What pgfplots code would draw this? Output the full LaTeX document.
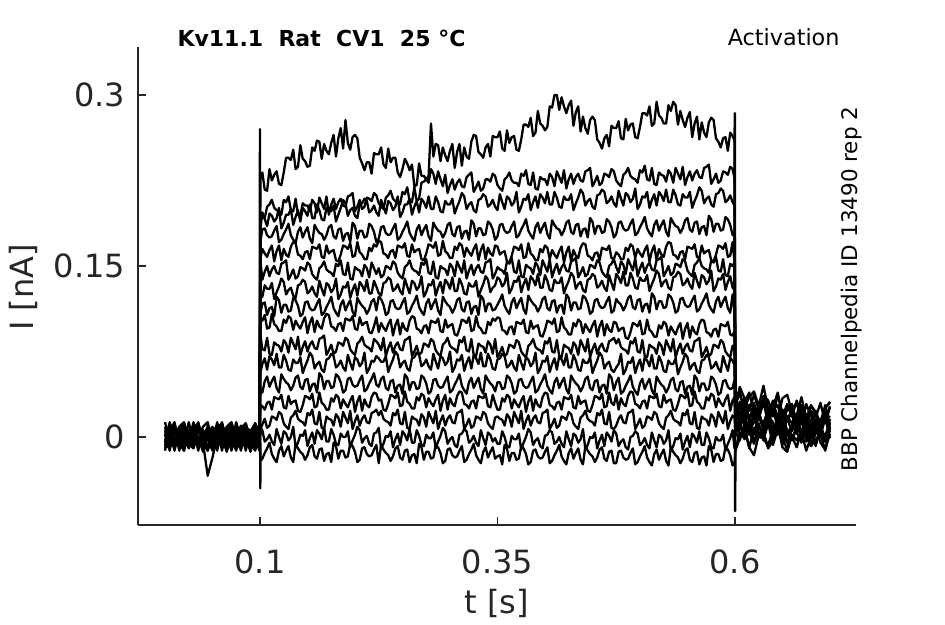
\documentclass[border=0pt]{standalone}
\usepackage{fontspec}
\setmainfont{DejaVu Sans}
\usepackage{pgfplots}
\usepackage{pgfplotstable}
\pgfplotsset{compat=1.18}
\definecolor{axisgray}{RGB}{38,38,38}
% t in ms, currents in pA
\pgfplotstableread{
t y1 y2 y3 y4 y5 y6 y7 y8 y9 y10 y11 y12 y13 y14 y15 y16
0 -3 -6 6 -5 5 6 -5 -10 13 -8 -6 2 3 6 9 -12
5 8 -10 9 9 -6 2 13 0 -3 3 3 -9 -12 -5 -2 9
10 12 5 -3 -12 9 -3 -8 13 -9 10 -10 8 9 10 -9 3
15 -5 0 -6 6 2 9 2 -8 2 -5 0 -5 5 -12 5 -6
20 0 8 10 -2 -10 13 -12 3 8 -12 8 5 -6 2 12 12
25 -9 -9 -9 -3 -3 -6 6 -5 5 6 -5 -10 13 -8 -6 2
30 6 3 5 10 8 -10 9 9 -6 2 13 0 -3 3 3 -9
35 10 12 0 -8 12 5 -3 -12 9 -3 -8 13 -9 10 -10 8
40 -8 -2 -13 6 -5 0 -6 6 2 9 2 -8 2 -5 0 -5
45 -2 -8 3 -2 0 8 10 -2 -10 13 -12 3 8 -12 8 -34
50 3 6 9 -12 -9 -9 -9 -3 -3 -6 6 -5 5 6 -5 -18
55 -12 -5 -2 9 6 3 5 10 8 -10 9 9 -6 2 13 0
60 9 10 -9 3 10 12 0 -8 12 5 -3 -12 9 -3 -8 13
65 5 -12 5 -6 -8 -2 -13 6 -5 0 -6 6 2 9 2 -8
70 -6 2 12 12 -2 -8 3 -2 0 8 10 -2 -10 13 -12 3
75 13 -8 -6 2 3 6 9 -12 -9 -9 -9 -3 -3 -6 6 -5
80 -3 3 3 -9 -12 -5 -2 9 6 3 5 10 8 -10 9 9
85 -9 10 -10 8 9 10 -9 3 10 12 0 -8 12 5 -3 -12
90 2 -5 0 -5 5 -12 5 -6 -8 -2 -13 6 -5 0 -6 6
95 8 -12 8 5 -6 2 12 12 -2 -8 3 -2 0 8 10 -2
99.5 5 6 -5 -10 13 -8 -6 2 3 6 9 -12 -9 -9 -9 -3
100.5 226 197 183 172 157 154 124 109 104 89 57 42 28 7 8 -21
102.5 232 194 197 182 165 138 123 117 102 77 64 39 27 11 6 -19
105 217 192 191 183 161 145 133 118 107 76 69 49 24 16 -4 -14
107.5 216 202 185 177 158 150 130 107 95 87 59 53 30 8 -2 -10
110 235 204 196 175 164 141 130 113 96 73 71 44 31 10 2 -5
112.5 225 208 194 176 168 147 135 114 108 72 68 49 24 18 -4 -15
115 230 201 189 181 154 150 121 106 99 83 63 53 35 17 -7 -19
117.5 233 199 192 185 163 144 127 123 97 81 73 43 34 15 7 -22
120 222 198 201 171 168 143 132 120 93 80 61 39 33 22 0 -12
122.5 221 195 183 173 155 152 139 109 93 75 61 55 37 20 -6 -8
125 232 208 188 178 165 153 136 116 103 85 72 51 26 12 5 -17
127.5 245 206 195 182 160 155 125 116 100 82 67 48 25 9 3 -12
130 245 211 195 187 158 138 129 110 106 74 59 46 36 7 -3 -8
132.5 243 199 200 177 167 142 131 111 104 87 58 41 29 17 0 -18
135 252 198 186 173 171 147 124 122 94 82 68 45 31 19 9 -22
137.5 235 209 193 170 170 139 122 120 102 77 65 52 32 23 -9 -6
140 237 195 199 180 160 141 133 115 98 88 65 54 23 16 -5 -10
142.5 256 194 189 184 159 149 134 106 95 72 70 44 22 14 2 -13
145 244 205 201 175 156 148 138 108 101 79 56 42 28 13 1 -15
147.5 242 203 198 180 162 146 136 118 105 84 62 50 36 10 6 -20
150 237 203 194 184 163 153 126 119 91 75 67 51 35 21 -8 -16
152.5 238 198 204 174 156 151 128 113 100 81 74 40 33 19 -1 -9
155 254 208 192 170 167 143 132 111 105 84 71 46 38 24 4 -7
157.5 251 205 192 186 166 140 126 112 92 78 60 47 26 12 -6 -17
160 260 197 204 182 165 138 123 117 102 77 64 39 27 11 6 -19
162.5 259 210 199 179 169 148 137 121 97 86 66 56 39 22 3 -11
165 244 205 191 178 158 150 130 107 95 87 59 53 30 8 -2 -10
167.5 257 200 190 173 157 154 124 109 104 89 57 42 28 7 8 -21
170 251 211 201 177 168 147 135 114 108 72 68 49 24 18 -4 -15
172.5 248 195 198 184 161 145 133 118 107 76 69 49 24 16 -4 -14
175 258 204 198 186 163 144 127 123 97 81 73 43 34 15 7 -22
177.5 265 209 203 176 164 141 130 113 96 73 71 44 31 10 2 -5
180 246 200 189 174 155 152 139 109 93 75 61 55 37 20 -6 -8
182.5 262 206 195 182 154 150 121 106 99 83 63 53 35 17 -7 -19
185 271 209 201 183 160 155 125 116 100 82 67 48 25 9 3 -12
187.5 253 203 208 172 168 143 132 120 93 80 61 39 33 22 0 -12
190 278 202 205 178 167 142 131 111 104 87 58 41 29 17 0 -18
192.5 258 211 194 179 165 153 136 116 103 85 72 51 26 12 5 -17
195 252 212 199 171 170 139 122 120 102 77 65 52 32 23 -9 -6
197.5 263 214 201 188 158 138 129 110 106 74 59 46 36 7 -3 -8
200 265 198 194 185 159 149 134 106 95 72 70 44 22 14 2 -13
202.5 262 202 192 174 171 147 124 122 94 82 68 45 31 19 9 -22
205 245 208 204 181 162 146 136 118 105 84 62 50 36 10 6 -20
207.5 240 200 205 181 160 141 133 115 98 88 65 54 23 16 -5 -10
210 234 202 209 175 156 151 128 113 100 81 74 40 33 19 -1 -9
212.5 241 210 207 176 156 148 138 108 101 79 56 42 28 13 1 -15
215 241 209 197 187 166 140 126 112 92 78 60 47 26 12 -6 -17
217.5 231 207 199 185 163 153 126 119 91 75 67 51 35 21 -8 -16
220 249 214 203 180 169 148 137 121 97 86 66 56 39 22 3 -11
222.5 248 212 197 171 167 143 132 111 105 84 71 46 38 24 4 -7
225 248 205 194 174 172 148 126 123 92 81 69 44 32 19 8 -23
227.5 254 202 208 184 171 140 124 121 100 76 66 51 33 23 -10 -7
230 239 200 202 185 161 142 135 116 96 87 66 53 24 16 -6 -11
232.5 236 210 196 179 160 150 136 107 93 71 71 43 23 14 1 -14
235 253 212 207 177 157 149 140 109 99 78 57 41 29 13 0 -16
237.5 241 216 205 178 163 147 138 119 103 83 63 49 37 10 5 -21
240 245 209 199 183 164 154 128 120 89 74 68 50 36 21 -9 -17
242.5 245 207 202 187 157 152 130 114 98 80 75 39 34 19 -2 -10
245 232 207 211 173 168 144 134 112 103 83 72 45 39 24 3 -8
247.5 228 204 193 175 167 141 128 113 90 77 61 46 27 12 -7 -18
250 235 215 197 180 166 139 125 118 100 76 65 38 28 11 5 -20
252.5 244 213 204 184 170 149 139 122 95 85 67 55 40 22 2 -12
255 240 219 204 189 159 151 132 108 93 86 60 52 31 8 -3 -11
257.5 234 207 209 179 158 155 126 110 102 88 58 41 29 7 7 -22
260 239 206 195 175 169 148 137 115 106 71 69 48 25 18 -5 -16
262.5 220 219 202 172 162 146 135 119 105 75 70 48 25 16 -5 -15
265 221 207 207 182 164 145 129 124 95 80 74 42 35 15 6 -23
267.5 240 209 197 186 165 142 132 114 94 72 72 43 32 10 1 -6
270 229 223 209 177 156 153 141 110 91 74 62 54 38 20 -7 -9
272.5 229 224 206 182 155 151 123 107 97 82 64 52 36 17 -8 -20
275 226 226 201 186 161 156 127 117 98 81 68 47 26 9 2 -13
277.5 229 223 211 176 169 144 134 121 91 79 62 38 34 22 -1 -13
280 275 235 200 172 168 143 133 112 102 86 59 40 30 17 -1 -19
282.5 246 231 200 188 166 154 138 117 101 84 73 50 27 12 4 -18
285 257 222 211 184 171 140 124 121 100 76 66 51 33 23 -10 -7
287.5 256 233 206 181 159 139 131 111 104 73 60 45 37 7 -4 -9
290 242 226 198 180 160 150 136 107 93 71 71 43 23 14 1 -14
292.5 254 220 197 175 172 148 126 123 92 81 69 44 32 19 8 -23
295 247 230 207 179 163 147 138 119 103 83 63 49 37 10 5 -21
297.5 242 214 204 186 161 142 135 116 96 87 66 53 24 16 -6 -11
300 251 221 204 188 157 152 130 114 98 80 75 39 34 19 -2 -10
302.5 257 226 209 178 157 149 140 109 99 78 57 41 29 13 0 -16
305 236 217 196 176 167 141 128 113 90 77 61 46 27 12 -7 -18
307.5 250 223 202 184 164 154 128 120 89 74 68 50 36 21 -9 -17
310 257 226 207 185 170 149 139 122 95 85 67 55 40 22 2 -12
312.5 238 220 214 174 168 144 134 112 103 83 72 45 39 24 3 -8
315 254 219 211 180 158 155 126 110 102 88 58 41 29 7 7 -22
317.5 246 228 200 181 166 139 125 118 100 76 65 38 28 11 5 -20
320 244 230 204 173 162 146 135 119 105 75 70 48 25 16 -5 -15
322.5 259 232 206 190 159 151 132 108 93 86 60 52 31 8 -3 -11
325 265 215 199 187 165 142 132 114 94 72 72 43 32 10 1 -6
327.5 264 219 197 176 169 148 137 115 106 71 69 48 25 18 -5 -16
330 250 224 208 183 155 151 123 107 97 82 64 52 36 17 -8 -20
332.5 248 216 209 183 164 145 129 124 95 80 74 42 35 15 6 -23
335 245 218 213 177 169 144 134 121 91 79 62 38 34 22 -1 -13
337.5 254 226 211 178 156 153 141 110 91 74 62 54 38 20 -7 -9
340 257 226 202 189 166 154 138 117 101 84 73 50 27 12 4 -18
342.5 246 224 204 187 161 156 127 117 98 81 68 47 26 9 2 -13
345 264 231 208 182 159 139 131 111 104 73 60 45 37 7 -4 -9
347.5 263 229 202 173 168 143 133 112 102 86 59 40 30 17 -1 -19
350 263 221 199 176 167 149 140 116 105 70 68 48 24 18 -6 -17
352.5 268 218 213 186 160 147 138 120 104 74 69 48 24 16 -6 -16
355 253 216 206 187 162 146 132 125 94 79 73 42 34 15 5 -24
357.5 251 226 200 181 163 143 135 115 93 71 71 43 31 10 0 -7
360 269 228 211 179 154 154 144 111 90 73 61 54 37 20 -8 -10
362.5 258 232 209 180 153 152 126 108 96 81 63 52 35 17 -9 -21
365 263 225 203 185 159 157 130 118 97 80 67 47 25 9 1 -14
367.5 264 223 206 189 167 145 137 122 90 78 61 38 33 22 -2 -14
370 252 223 215 175 166 144 136 113 101 85 58 40 29 17 -2 -20
372.5 251 220 197 177 164 155 141 118 100 83 72 50 26 12 3 -19
375 261 231 202 182 169 141 127 122 99 75 65 51 32 23 -11 -8
377.5 274 229 209 186 157 140 134 112 103 72 59 45 36 7 -5 -10
380 274 234 208 191 158 151 139 108 92 70 70 43 22 14 0 -15
382.5 272 222 213 181 170 149 129 124 91 80 68 44 31 19 7 -24
385 280 221 199 177 161 148 141 120 102 82 62 49 36 10 4 -22
387.5 264 232 206 174 159 143 138 117 95 86 65 53 23 16 -7 -12
390 267 218 211 184 155 153 133 115 97 79 74 39 33 19 -3 -11
392.5 286 217 201 188 155 150 143 110 98 77 56 41 28 13 -1 -17
395 275 228 213 179 165 142 131 114 89 76 60 46 26 12 -8 -19
397.5 273 226 210 184 162 155 131 121 88 73 67 50 35 21 -10 -18
400 269 226 205 188 168 150 142 123 94 84 66 55 39 22 1 -13
402.5 272 221 215 178 166 145 137 113 102 82 71 45 38 24 2 -9
405 290 231 204 174 156 156 129 111 101 87 57 41 28 7 6 -23
407.5 289 228 204 190 164 140 128 119 99 75 64 38 27 11 4 -21
410 300 220 215 186 160 147 138 120 104 74 69 48 24 16 -6 -16
412.5 300 233 210 183 157 152 135 109 92 85 59 52 30 8 -4 -12
415 287 228 202 182 163 143 135 115 93 71 71 43 31 10 0 -7
417.5 298 223 201 177 167 149 140 116 105 70 68 48 24 18 -6 -17
420 290 234 211 181 153 152 126 108 96 81 63 52 35 17 -9 -21
422.5 284 218 208 188 162 146 132 125 94 79 73 42 34 15 5 -24
425 291 226 208 190 167 145 137 122 90 78 61 38 33 22 -2 -14
427.5 295 231 213 180 154 154 144 111 90 73 61 54 37 20 -8 -10
430 273 222 199 178 164 155 141 118 100 83 72 50 26 12 3 -19
432.5 285 228 205 186 159 157 130 118 97 80 67 47 25 9 1 -14
435 290 231 210 187 157 140 134 112 103 72 59 45 36 7 -5 -10
437.5 268 225 217 176 166 144 136 113 101 85 58 40 29 17 -2 -20
440 281 224 214 182 170 149 129 124 91 80 68 44 31 19 7 -24
442.5 271 233 203 183 169 141 127 122 99 75 65 51 32 23 -11 -8
445 266 234 207 175 159 143 138 117 95 86 65 53 23 16 -7 -12
447.5 278 236 209 192 158 151 139 108 92 70 70 43 22 14 0 -15
450 281 220 202 189 155 150 143 110 98 77 56 41 28 13 -1 -17
452.5 278 224 200 178 161 148 141 120 102 82 62 49 36 10 4 -22
455 261 229 212 185 162 155 131 121 88 73 67 50 35 21 -10 -18
457.5 258 221 213 185 155 153 133 115 97 79 74 39 33 19 -3 -11
460 253 223 217 179 166 145 137 113 102 82 71 45 38 24 2 -9
462.5 262 231 215 180 165 142 131 114 89 76 60 46 26 12 -8 -19
465 265 230 205 191 164 140 128 119 99 75 64 38 27 11 4 -21
467.5 255 228 207 189 168 150 142 123 94 84 66 55 39 22 1 -13
470 273 235 211 184 157 152 135 109 92 85 59 52 30 8 -4 -12
472.5 271 233 205 175 156 156 129 111 101 87 57 41 28 7 6 -23
475 271 225 202 178 162 149 143 121 100 82 61 48 37 10 3 -23
477.5 277 222 216 188 160 144 140 118 93 86 64 52 24 16 -8 -13
480 262 220 209 189 156 154 135 116 95 79 73 38 34 19 -4 -12
482.5 261 230 203 183 156 151 145 111 96 77 55 40 29 13 -2 -18
485 279 232 214 181 166 143 133 115 87 76 59 45 27 12 -9 -20
487.5 269 236 212 182 163 156 133 122 86 73 66 49 36 21 -11 -19
490 274 229 206 187 169 151 144 124 92 84 65 54 40 22 0 -14
492.5 275 227 209 191 167 146 139 114 100 82 70 44 39 24 1 -10
495 263 226 218 177 157 157 131 112 99 87 56 40 29 7 5 -24
497.5 262 223 200 179 165 141 130 120 97 75 63 37 28 11 3 -22
500 272 234 204 184 161 148 140 121 102 74 68 47 25 16 -7 -17
502.5 284 232 211 188 158 153 137 110 90 85 58 51 31 8 -5 -13
505 284 238 210 193 164 144 137 116 91 71 70 42 32 10 -1 -8
507.5 282 226 215 183 168 150 142 117 103 70 67 47 25 18 -7 -18
510 290 225 201 179 154 153 128 109 94 81 62 51 36 17 -10 -22
512.5 273 236 208 176 163 147 134 126 92 79 72 41 35 15 4 -25
515 275 222 213 186 168 146 139 123 88 78 60 37 34 22 -3 -15
517.5 294 221 203 190 155 155 146 112 88 73 60 53 38 20 -9 -11
520 282 232 215 181 165 156 143 119 98 83 71 49 27 12 2 -20
522.5 280 230 212 186 160 158 132 119 95 80 66 46 26 9 0 -15
525 275 229 207 190 158 141 136 113 101 72 58 44 37 7 -6 -11
527.5 275 224 217 180 167 145 138 114 99 85 57 39 30 17 -3 -21
530 291 234 206 176 171 150 131 125 89 80 67 43 32 19 6 -25
532.5 286 231 206 192 170 142 129 123 97 75 64 50 33 23 -12 -9
535 294 223 217 188 160 144 140 118 93 86 64 52 24 16 -8 -13
537.5 291 236 212 185 159 152 141 109 90 70 69 42 23 14 -1 -16
540 274 231 204 184 156 151 145 111 96 77 55 40 29 13 -2 -18
542.5 286 226 203 179 162 149 143 121 100 82 61 48 37 10 3 -23
545 278 237 213 183 163 156 133 122 86 73 66 49 36 21 -11 -19
547.5 272 221 210 190 156 154 135 116 95 79 73 38 34 19 -4 -12
550 280 228 210 192 167 146 139 114 100 82 70 44 39 24 1 -10
552.5 285 233 215 182 166 143 133 115 87 76 59 45 27 12 -9 -20
555 263 225 201 180 165 141 130 120 97 75 63 37 28 11 3 -22
557.5 275 231 207 188 169 151 144 124 92 84 65 54 40 22 0 -14
560 281 234 212 189 158 153 137 110 90 85 58 51 31 8 -5 -13
562.5 261 228 219 178 157 157 131 112 99 87 56 40 29 7 5 -24
565 276 227 216 184 168 150 142 117 103 70 67 47 25 18 -7 -18
567.5 267 236 205 185 161 148 140 121 102 74 68 47 25 16 -7 -17
570 263 237 209 177 163 147 134 126 92 79 72 41 35 15 4 -25
572.5 276 239 211 194 164 144 137 116 91 71 70 42 32 10 -1 -8
575 280 222 204 191 155 155 146 112 88 73 60 53 38 20 -9 -11
577.5 278 226 202 180 154 153 128 109 94 81 62 51 36 17 -10 -22
580 262 231 213 187 160 158 132 119 95 80 66 46 26 9 0 -15
582.5 259 223 214 187 168 146 139 123 88 78 60 37 34 22 -3 -15
585 254 225 218 181 167 145 138 114 99 85 57 39 30 17 -3 -21
587.5 262 233 216 182 165 156 143 119 98 83 71 49 27 12 2 -20
590 263 232 206 193 170 142 129 123 97 75 64 50 33 23 -12 -9
592.5 251 230 208 191 158 141 136 113 101 72 58 44 37 7 -6 -11
595 267 237 212 186 159 152 141 109 90 70 69 42 23 14 -1 -16
597.5 264 235 206 177 171 150 131 125 89 80 67 43 32 19 6 -25
599.5 260 227 203 180 154 153 129 110 93 80 63 50 35 17 -10 -23
600.5 29 26 36 35 22 17 22 20 27 15 1 7 14 5 -9 -12
605 38 44 40 18 19 31 28 27 9 6 16 15 2 -3 2 -1
610 25 34 22 30 35 10 25 12 18 24 20 -2 -1 11 8 6
615 35 23 28 39 16 28 14 5 5 14 2 10 15 -10 5 -9
620 40 37 30 23 27 18 27 21 13 2 7 18 -5 8 -6 -16
625 27 24 15 17 22 17 20 17 21 19 12 4 9 0 9 2
630 45 34 36 31 9 30 8 12 8 6 -3 -2 4 -1 2 -2
635 24 19 32 20 25 12 15 24 26 16 18 12 -9 12 -10 -7
640 30 26 18 32 29 24 24 26 4 -1 13 0 7 -7 -3 6
645 16 39 37 10 18 16 28 7 14 9 2 15 13 7 8 10
650 34 18 21 24 11 6 11 3 0 22 21 -7 2 -1 12 -9
655 37 29 15 14 25 27 16 18 18 1 5 7 -5 -11 -5 -13
660 22 18 24 23 29 19 5 12 19 11 -2 -3 8 10 0 2
665 19 32 30 30 11 10 20 20 7 3 9 8 15 4 -9 -3
670 35 11 27 15 20 28 24 3 4 17 15 15 -3 -5 6 5
675 16 29 16 8 7 18 6 15 20 -4 12 0 6 13 10 -12
680 27 18 28 23 15 5 10 22 0 13 0 -8 -7 3 -8 0
685 22 17 21 19 23 22 15 8 14 5 15 10 3 -8 -2 9
690 9 30 9 14 10 9 0 2 9 4 8 6 11 9 3 -5
695 25 12 16 26 28 19 21 16 -4 17 -4 1 -2 -4 -12 -11
700 31 26 27 30 7 4 17 5 12 -1 3 13 16 6 9 3
}\traces

\begin{document}
\begin{tikzpicture}
\path[use as bounding box] (-138pt,-99pt) rectangle (807pt,525pt);
\begin{axis}[
  width=718pt, height=478pt, scale only axis,
  xmin=-28.4, xmax=727.4, ymin=-77.2, ymax=342.1,
  axis x line*=bottom, axis y line*=left,
  xtick={100,350,600}, xticklabels={0.1,0.35,0.6},
  ytick={0,150,300}, yticklabels={0,0.15,0.3},
  tick align=inside, major tick length=8pt,
  axis line style={color=axisgray, line width=1.2pt},
  tick style={color=axisgray, line width=1.2pt},
  ticklabel style={font=\fontsize{32}{38}\selectfont, text=axisgray, inner sep=0pt, outer sep=0pt},
  xticklabel style={anchor=base, yshift=-48pt},
  yticklabel style={anchor=base east, xshift=-13pt, yshift=-12pt},
]
\pgfplotsinvokeforeach{1,...,16}{
  \addplot[black, no markers, line width=2.3pt, line join=round] table[x=t, y=y#1] {\traces};
}
\addplot[black, no markers, line width=2.4pt, line join=round] coordinates {(99.6,2) (100,270) (100.3,-45) (100.6,-5)};
\addplot[black, no markers, line width=2.4pt, line join=round] coordinates {(599.5,258) (599.9,284) (600.2,-65) (600.5,-10)};
\end{axis}
\node[anchor=base west, font=\bfseries\fontsize{22}{26}\selectfont] at (36pt,478pt) {Kv11.1\ \ Rat\ \ CV1\ \ 25 °C};
\node[anchor=base east, font=\fontsize{22.3}{26}\selectfont] at (705pt,479pt) {Activation};
\node[rotate=90, anchor=base west, font=\fontsize{21.5}{26}\selectfont] at (719pt,50pt) {BBP Channelpedia ID 13490 rep 2};
\node[anchor=base, text=axisgray, font=\fontsize{32}{38}\selectfont] at (359pt,-88pt) {t [s]};
\node[rotate=90, anchor=base, text=axisgray, font=\fontsize{32}{38}\selectfont] at (-104pt,237.5pt) {I [nA]};
\end{tikzpicture}
\end{document}
